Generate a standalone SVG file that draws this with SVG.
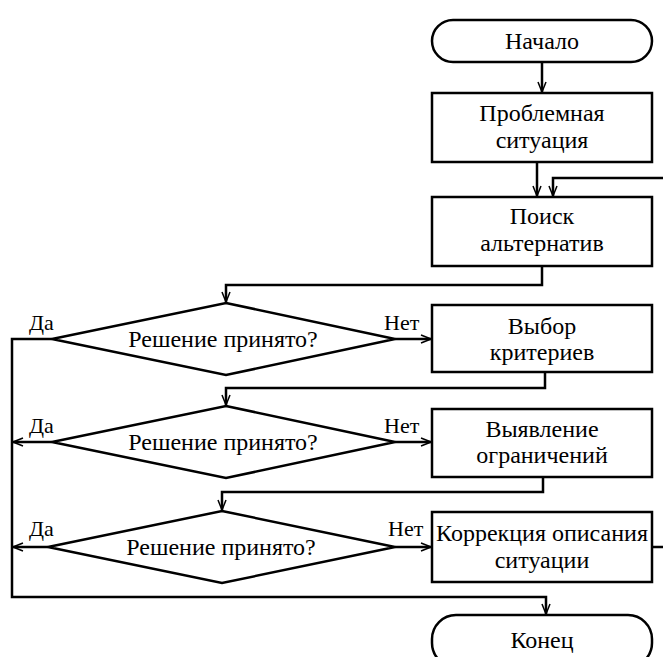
<svg xmlns="http://www.w3.org/2000/svg" width="663" height="657" viewBox="0 0 663 657" font-family="'Liberation Serif', 'Times New Roman', serif">
<style>
.s{fill:#fff;stroke:#000;stroke-width:2.5}
.c{fill:none;stroke:#000;stroke-width:2.5}
text{font-family:'Liberation Serif','Times New Roman',serif;fill:#000}
.t{font-size:24px;text-anchor:middle}
.l{font-size:22px}
</style>
<defs>
<marker id="a" viewBox="0 0 12 10" refX="11" refY="5" markerWidth="12" markerHeight="10" markerUnits="userSpaceOnUse" orient="auto">
<path d="M1,1 L11,5 L1,9" fill="none" stroke="#000" stroke-width="1.5"/>
</marker>
</defs>
<rect width="663" height="657" fill="#fff"/>
<g id="connectors">
<path class="c" d="M542,62 V92" marker-end="url(#a)"/>
<path class="c" d="M537,162 V196" marker-end="url(#a)"/>
<path class="c" d="M663,178 H553 V196" marker-end="url(#a)"/>
<path class="c" d="M542,266 V285 H226 V302" marker-end="url(#a)"/>
<path class="c" d="M395,339 H431" marker-end="url(#a)"/>
<path class="c" d="M52,339 H12 V597 H546 V614" marker-end="url(#a)"/>
<path class="c" d="M545,372 V388 H226 V405" marker-end="url(#a)"/>
<path class="c" d="M52,442 H13" marker-end="url(#a)"/>
<path class="c" d="M395,442 H431" marker-end="url(#a)"/>
<path class="c" d="M543,477 V492 H222 V510" marker-end="url(#a)"/>
<path class="c" d="M48,547 H13" marker-end="url(#a)"/>
<path class="c" d="M395,547 H431" marker-end="url(#a)"/>
<path class="c" d="M652,547 H663"/>
<text class="l" x="29" y="330">Да</text>
<text class="l" x="384" y="330">Нет</text>
<text class="l" x="29" y="433">Да</text>
<text class="l" x="384" y="433">Нет</text>
<text class="l" x="29" y="536">Да</text>
<text class="l" x="388" y="536">Нет</text>
</g>
<g id="start">
<rect class="s" x="432" y="20" width="220" height="42" rx="21" ry="21"/>
<text class="t" x="542" y="49">Начало</text>
</g>
<g id="problem">
<rect class="s" x="432" y="93" width="220" height="69"/>
<text class="t" x="542" y="121">Проблемная</text>
<text class="t" x="542" y="148">ситуация</text>
</g>
<g id="search">
<rect class="s" x="432" y="197" width="220" height="69"/>
<text class="t" x="542" y="224">Поиск</text>
<text class="t" x="542" y="251">альтернатив</text>
</g>
<g id="decision1">
<polygon class="s" points="226,303 395,339 226,375 52,339"/>
<text class="t" x="223" y="347">Решение принято?</text>
</g>
<g id="criteria">
<rect class="s" x="432" y="305" width="220" height="67"/>
<text class="t" x="542" y="334">Выбор</text>
<text class="t" x="542" y="360">критериев</text>
</g>
<g id="decision2">
<polygon class="s" points="226,406 395,442 226,478 52,442"/>
<text class="t" x="223" y="450">Решение принято?</text>
</g>
<g id="limits">
<rect class="s" x="432" y="409" width="220" height="68"/>
<text class="t" x="542" y="437">Выявление</text>
<text class="t" x="542" y="463">ограничений</text>
</g>
<g id="decision3">
<polygon class="s" points="222,511 395,547 222,583 48,547"/>
<text class="t" x="221" y="555">Решение принято?</text>
</g>
<g id="correction">
<rect class="s" x="432" y="512" width="220" height="70"/>
<text class="t" x="542" y="541">Коррекция описания</text>
<text class="t" x="542" y="568">ситуации</text>
</g>
<g id="end">
<rect class="s" x="432" y="615" width="220" height="52" rx="24" ry="24"/>
<text class="t" x="542" y="648">Конец</text>
</g>
</svg>
